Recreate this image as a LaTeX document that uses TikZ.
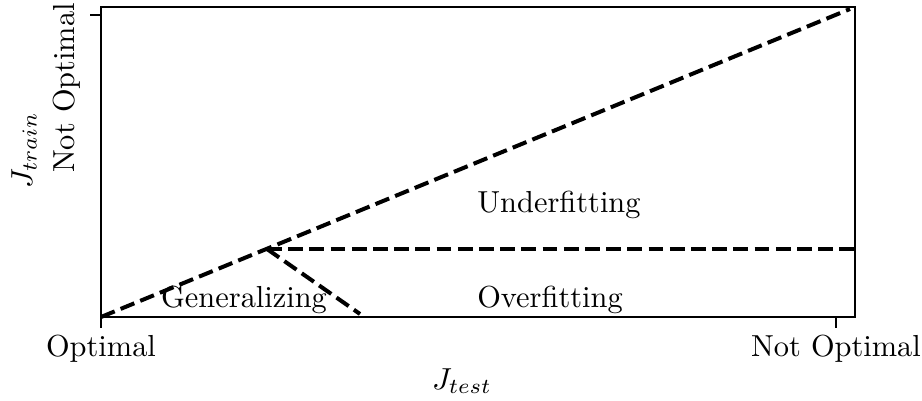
\documentclass[tikz,border=0pt]{standalone}
\usetikzlibrary{positioning}
\begin{document}
\begin{tikzpicture}[x=0.5pt, y=-0.5pt,
  axisline/.style={line width=1pt, line cap=rect},
  regionline/.style={line width=2pt, dash pattern=on 7.4pt off 3.2pt},
  lbl/.style={font=\fontsize{10}{12}\selectfont, inner sep=0pt, scale=1.52},
]
  \useasboundingbox (0,0) rectangle (922,401);
  % corners of the axes and ends of the region lines
  \coordinate (origin) at (101,317);
  \coordinate (topright) at (855,7);
  \coordinate (diagend) at (850,9);
  \coordinate (kink) at (267,249);
  \coordinate (hend) at (855,249);
  \coordinate (gend) at (360,314);
  % region borders
  \draw[regionline] (origin) -- (diagend);
  \draw[regionline] (kink) -- (hend);
  \draw[regionline] (kink) -- (gend);
  % axes and ticks
  \draw[axisline] (origin) rectangle (topright);
  \coordinate (xtickA) at (101,317);
  \coordinate (xtickB) at (836,317);
  \coordinate (ytickA) at (101,15);
  \draw[axisline] (xtickA) -- ++(0,10);
  \draw[axisline] (xtickB) -- ++(0,10);
  \draw[axisline] (ytickA) -- ++(-10,0);
  % region labels
  \node[lbl] (under) at (559,205) {Underfitting};
  \node[lbl] (over) at (550,300) {Overfitting};
  \node[lbl] (gen) at (244,300) {Generalizing};
  % tick labels and axis labels
  \node[lbl] (xopt) at (101,349) {Optimal};
  \node[lbl] (xnotopt) at (836,349) {Not Optimal};
  \node[lbl] (xlab) at (462,381) {$J_{test}$};
  \node[lbl, rotate=90] (ynotopt) at (67,88) {Not Optimal};
  \node[lbl, rotate=90] (ylab) at (24,150) {$J_{train}$};
\end{tikzpicture}
\end{document}
